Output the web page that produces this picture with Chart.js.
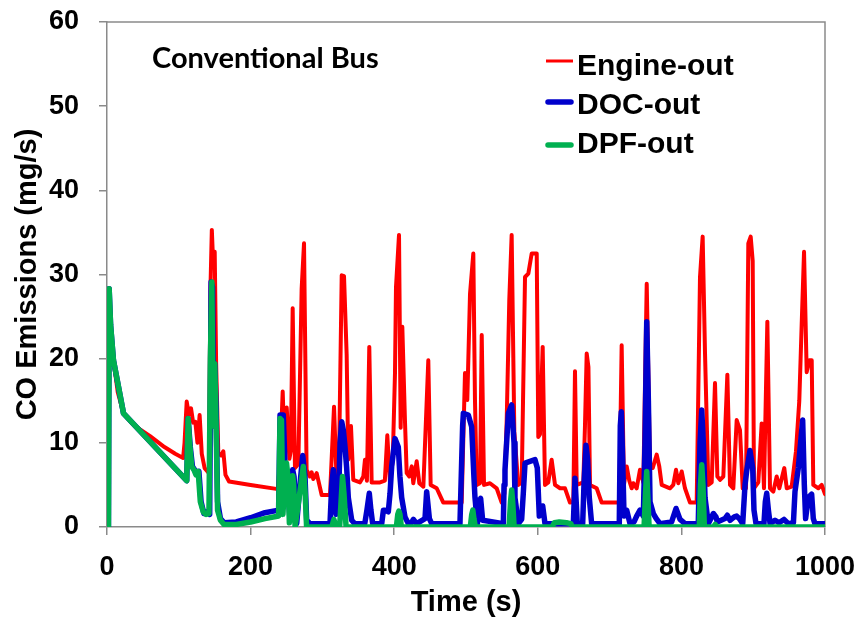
<!DOCTYPE html>
<html>
<head>
<meta charset="utf-8">
<script src="https://cdn.jsdelivr.net/npm/chart.js@4"></script>
<style>
  html, body { margin: 0; padding: 0; background: #ffffff; }
  canvas { display: block; }
</style>
</head>
<body>
<canvas id="chart" width="860" height="618"></canvas>
<script>
// Axis ticks
const xTicks = [0, 200, 400, 600, 800, 1000];
const xTickLabels = ['0', '200', '400', '600', '800', '1000'];
const yTicks = [0, 10, 20, 30, 40, 50, 60];
const yTickLabels = ['0', '10', '20', '30', '40', '50', '60'];

// Series labels
const seriesNames = ['Engine-out', 'DOC-out', 'DPF-out'];
const panelLabel = 'Conventional Bus';

// CO emission traces, [time (s), CO (mg/s)]
const engineOut = [
  [2,0],[3,28.3],[5,24],[9,19.8],[15,16],[23,13.5],[35,12.3],[46,11.6],[60,10.8],[80,9.5],[95,8.7],[106,8.2],
  [108,10],[111,14.9],[114,13.4],[117,14.1],[120,12.4],[123,12.5],[126,10],[129,13.3],[132,8.7],[136,7],[142,6.4],
  [144,28],[146,35.3],[148,31],[150,32.7],[152,19.4],[155,8.8],[159,8.5],[162,9],[165,6.2],[170,5.4],[200,5.0],[238,4.5],
  [241,8],[244.7,16.1],[247,10],[250.3,14.2],[254,8.1],[256,9],[258.6,26],[261.8,7],[266.5,7.5],[271.1,28.3],[274.4,33.7],
  [278,6.8],[282.6,6.0],[285,6.5],[287.3,5.7],[292,6.4],[299,3.8],[310.6,3.8],
  [316.2,14.3],[319.9,5.2],[323,7],[326.9,29.9],[330.1,29.8],[333.8,20.4],[336,8],[339.8,12],[343,5.6],[352.4,5.3],
  [357,6],[359.3,8],[362,5.5],[365.3,21.4],[368.6,5.3],[380.2,5.3],[387,5.5],[390.4,10.9],[394.2,5.2],[398,8],
  [401.1,18.3],[402.5,28.5],[406.7,34.7],[409,11.8],[411.3,23.8],[415,12.6],[417.4,6.4],[421,6],[424.4,7.2],[426.6,5.2],
  [431.3,7.8],[435,5.2],[440.6,4.8],[447.5,19.8],[450.8,5.0],[459.2,4.6],[468.4,2.9],[494,2.9],
  [498.6,18.3],[501.8,15.1],[505.6,27.7],[510.2,32.5],[512.5,15.1],[514.9,5],[519.5,5.2],[521.9,22.8],[525.1,5],
  [533.4,5.2],[542.7,4.6],[549.7,2.9],[553.5,4],[556.7,12.7],[560.3,27],[563.6,34.7],[567.3,11.3],[572.8,5.0],[577.6,5.3],
  [582.2,29.7],[586.8,30.1],[591.5,32.5],[598.5,32.5],[600.7,10.7],[603,11],[606.8,21.4],[610,5],[614.6,5.3],[619.3,8],
  [624,5],[631,4.6],[637.9,4.6],[644.8,2.9],[649.5,3],[651.8,18.5],[654.2,5],[663.4,5.3],[665.7,12],[668.1,20.6],
  [670.5,19],[672.7,5],[682,4.6],[689,2.9],[713.5,2.9],[716.8,21.6],[720,5],[723.8,7.2],[727.4,5.5],[730.8,4.6],
  [733,5.2],[737.7,4.6],[742.3,6.8],[747,5.3],[751.7,28.9],[756.3,7],[760,7],[765.6,8.6],[769.2,7.2],[772.6,5],
  [784.1,4.6],[788.7,5],[792.5,6.8],[795.7,5.2],[800.4,6.6],[805,4.6],[812,2.9],[821.3,2.9],[825.9,29.7],[829.6,34.5],
  [832.9,20.6],[837.5,5],[842.2,5.3],[846.8,17.1],[850.1,6],[853.8,5.6],[858.4,6],[864,18.1],[867.7,5],[872.3,4.6],
  [877,12.7],[881.6,11.5],[885.4,4.6],[890,4.6],[893.2,33.7],[896.5,34.5],[899.3,31.6],[901.1,4.6],[907.1,5.3],
  [911.8,12.3],[915,4.6],[919.7,24.4],[923.4,4.6],[928,4.2],[932.7,6],[936.4,4.6],[943.3,7],[946.7,4.6],[953.6,4.8],
  [959.6,9],[964.2,15],[967.5,24],[970.8,32.7],[974.5,18.4],[978.1,19.8],[981.5,19.8],[983.7,5],[990.7,4.6],
  [995.4,5],[1000,3.9]
];

const docOut = [
  [2,0],[3,28.3],[5,24],[9,19.8],[23,13.5],[111,5.5],[113,12.9],[116,9.5],[119,7.2],[122,6.8],[125,6.4],[128,6.6],
  [131,3],[135,1.6],[139,1.8],[143,1.5],[145,29.1],[147,28.5],[148.5,12],[150,19.4],[152,14],[154,3],[158,1],
  [163,0.5],[180,0.6],[200,1.1],[220,1.7],[239,2.0],
  [241,13.3],[245.5,13.3],[248,7.2],[250.3,6.8],[254.9,0.8],[257.2,6],[258.6,6.8],[260.5,6],[264.2,0.4],[269.8,6],
  [272.6,8.5],[275.8,6],[278.1,0.8],[282.7,0.4],[310.6,0.4],[313,5],[315.2,6.8],[318.9,1.5],[322,2],[324.6,10],
  [326.9,12.5],[329.2,11.5],[331.5,9.5],[333.8,7],[336.1,3.5],[340.8,0.8],[345,0.4],[359,0.4],[362,2],[365.3,4],
  [367.6,2],[370,0.4],[382.6,0.4],[385,2],[387.2,2],[391.8,1.8],[394.2,4],[396.5,7.2],[401.1,10.5],[405.7,9.5],
  [408,6],[410.4,3.5],[415,1.2],[419.7,0.4],[424,0.5],[426.7,0.9],[431.3,0.4],[442.9,1],[445.2,4.2],[449,1],
  [452.2,0.4],[491.6,0.4],[495.3,12],[496.3,13.5],[503.2,13.3],[507.9,11.9],[511,6],[512.5,3.5],[515.8,0.4],
  [518.6,3],[520.4,3.4],[523.2,0.8],[552,0.4],[553,5],[554.3,6.8],[559,13.5],[563.6,14.5],[566.9,10],[568.2,3.5],
  [572.9,0.4],[577.5,0.9],[579.8,4],[582.2,7.6],[589.1,7.8],[596.1,8],[599.3,7],[602.1,1.3],[606.8,2.5],[610,0.4],
  [649.5,0.4],[651.8,5.8],[655,0.4],[662.5,0.4],[664.3,5],[667.1,9.7],[669.4,8],[671.7,3.5],[675,0.4],[713.5,0.4],
  [714.9,12],[716.3,13.7],[718.2,8],[720.1,1.3],[723.8,2],[728.4,0.4],[734,0.6],[737.7,1.3],[742.3,2],[747,1.3],
  [749.3,10],[751.7,24.4],[754,15],[756.3,3],[760.9,1.6],[765,1],[770.2,0.4],[786.4,0.6],[792.5,2.2],[798.1,0.9],
  [805,0.4],[823.5,0.4],[825.9,10],[828.3,13.9],[830.6,10],[832.9,3.5],[837.5,0.4],[842.2,1.2],[844.5,1.6],
  [848.2,1.2],[850,0.6],[860.7,1],[864,1.4],[867.7,0.8],[873.7,1.2],[877,1.3],[881.6,0.9],[885.4,0.4],[888.6,5],
  [891,6.7],[895.5,9.1],[899.3,7],[901.1,2],[903.9,0.4],[915,0.4],[916.9,3],[918.8,4],[921.2,2],[923.5,0.4],
  [930.4,0.8],[936,0.5],[942.9,0.9],[949,0.4],[956,0.5],[958.2,4.2],[962.8,7],[966,10],[968.9,12.7],[971.2,5],
  [973,1],[976.8,3.5],[981.4,3.9],[983.7,1],[986,0.4],[1000,0.4]
];

const dpfOut = [
  [2,0],[3,28.3],[5,24],[9,19.8],[23,13.5],[111,5.5],[113,12.9],[115,10],[118,7.2],[121,6.8],[124,6.2],[127,6.6],
  [130,3],[134,1.8],[138,1.5],[142,1.6],[144,20],[146,29.1],[148,12],[150,19.4],[152,12],[154,2],[158,0.8],
  [163,0.3],[180,0.3],[200,0.6],[220,1.0],[239,1.3],[241,12.9],[243,12.7],[245,1.5],[248,6],[250,7.6],[252,6],
  [254,0.5],[257,5],[258.6,6.1],[260,5],[262,0],[270,5],[273.4,7.2],[276,4],[278,0],[313,0],[316,0.9],[319,0],
  [324,0],[326,3],[328,6],[330,4],[333,0],[403,0],[405,1.5],[406.5,1.9],[408,1.5],[410,0],[506,0],[508,1.5],
  [509.5,2],[511,1],[513,0],[560,0],[562,3],[563.6,4.4],[565,3],[567,0],[620,0],[623,0.5],[630,0.6],[640,0.5],
  [646,0.4],[648,0],[748,0],[750,4],[751.7,6.6],[753,4],[755,0],[825,0],[826.5,5],[828.3,7.4],[830,5],[832,0],
  [845,0],[847,0.3],[849,0],[1000,0]
];

const seriesColors = ['#ff0000', '#0000cc', '#00b050'];
const seriesWidths = [4, 5.5, 5.5];
const legendWidths = [3, 5.5, 5.5];
const frameColor = '#8a8a8a';
const fontFamily = '"Liberation Sans", Arial, sans-serif';

const toPoints = arr => arr.map(([x, y]) => ({ x, y }));

// Top and right edges of the plot frame
const framePlugin = {
  id: 'frame',
  beforeDatasetsDraw(chart) {
    const { ctx, chartArea: a } = chart;
    ctx.save();
    ctx.strokeStyle = frameColor;
    ctx.lineWidth = 1.5;
    ctx.beginPath();
    ctx.moveTo(a.left, a.top);
    ctx.lineTo(a.right, a.top);
    ctx.lineTo(a.right, a.bottom);
    ctx.stroke();
    ctx.restore();
  }
};

// Legend and panel label drawn inside the plot
const annotatePlugin = {
  id: 'annotate',
  afterDraw(chart) {
    const { ctx } = chart;
    ctx.save();
    ctx.fillStyle = '#000';
    ctx.textBaseline = 'alphabetic';
    ctx.textAlign = 'left';
    ctx.font = 'bold 29px Lato, "Open Sans", sans-serif';
    ctx.fillText(panelLabel, 152, 68);

    const rows = [
      { lineY: 61, textY: 75 },
      { lineY: 102, textY: 114 },
      { lineY: 145, textY: 153 }
    ];
    ctx.font = 'bold 30px ' + fontFamily;
    rows.forEach((r, i) => {
      ctx.strokeStyle = seriesColors[i];
      ctx.lineWidth = legendWidths[i];
      ctx.lineCap = i === 0 ? 'butt' : 'round';
      ctx.beginPath();
      ctx.moveTo(i === 0 ? 546 : 548, r.lineY);
      ctx.lineTo(i === 0 ? 573 : 571, r.lineY);
      ctx.stroke();
      ctx.fillText(seriesNames[i], 577, r.textY);
    });
    ctx.restore();
  }
};

const series = [engineOut, docOut, dpfOut];

new Chart(document.getElementById('chart'), {
  type: 'line',
  data: {
    datasets: series.map((s, i) => ({
      label: seriesNames[i],
      data: toPoints(s),
      borderColor: seriesColors[i],
      backgroundColor: seriesColors[i],
      borderWidth: seriesWidths[i],
      pointRadius: 0,
      tension: 0,
      fill: false,
      borderJoinStyle: 'round',
      borderCapStyle: 'round',
      order: 3 - i
    }))
  },
  options: {
    responsive: false,
    animation: false,
    devicePixelRatio: 1,
    layout: { padding: { top: 22, right: 35, left: 0, bottom: 0 } },
    plugins: { legend: { display: false }, tooltip: { enabled: false } },
    scales: {
      x: {
        type: 'linear',
        min: 0,
        max: 1000,
        afterBuildTicks: s => { s.ticks = xTicks.map(v => ({ value: v })); },
        afterFit: s => { s.height = 91; s.paddingLeft = 0; s.paddingRight = 0; },
        grid: { display: true, drawOnChartArea: false, drawTicks: true, tickLength: 8, color: frameColor, lineWidth: 1.5 },
        border: { display: true, color: frameColor, width: 1.5 },
        ticks: {
          color: '#000', padding: 16, maxRotation: 0,
          callback: (v, i) => xTickLabels[i],
          font: { family: fontFamily, size: 27, weight: 'bold' }
        },
        title: { display: true, text: 'Time (s)', color: '#000', padding: { top: 0, bottom: 1 },
                 font: { family: fontFamily, size: 29, weight: 'bold', lineHeight: 1 } }
      },
      y: {
        type: 'linear',
        min: 0,
        max: 60,
        afterBuildTicks: s => { s.ticks = yTicks.map(v => ({ value: v })); },
        afterFit: s => { s.width = 107; s.paddingTop = 0; s.paddingBottom = 0; },
        grid: { display: true, drawOnChartArea: false, drawTicks: true, tickLength: 8, color: frameColor, lineWidth: 1.5 },
        border: { display: true, color: frameColor, width: 1.5 },
        ticks: {
          color: '#000', padding: 20,
          callback: (v, i) => yTickLabels[i],
          font: { family: fontFamily, size: 27, weight: 'bold' }
        },
        title: { display: true, text: 'CO Emissions (mg/s)', color: '#000', padding: { top: 13, bottom: 0 },
                 font: { family: fontFamily, size: 29, weight: 'bold', lineHeight: 1 } }
      }
    }
  },
  plugins: [framePlugin, annotatePlugin]
});
</script>
</body>
</html>
